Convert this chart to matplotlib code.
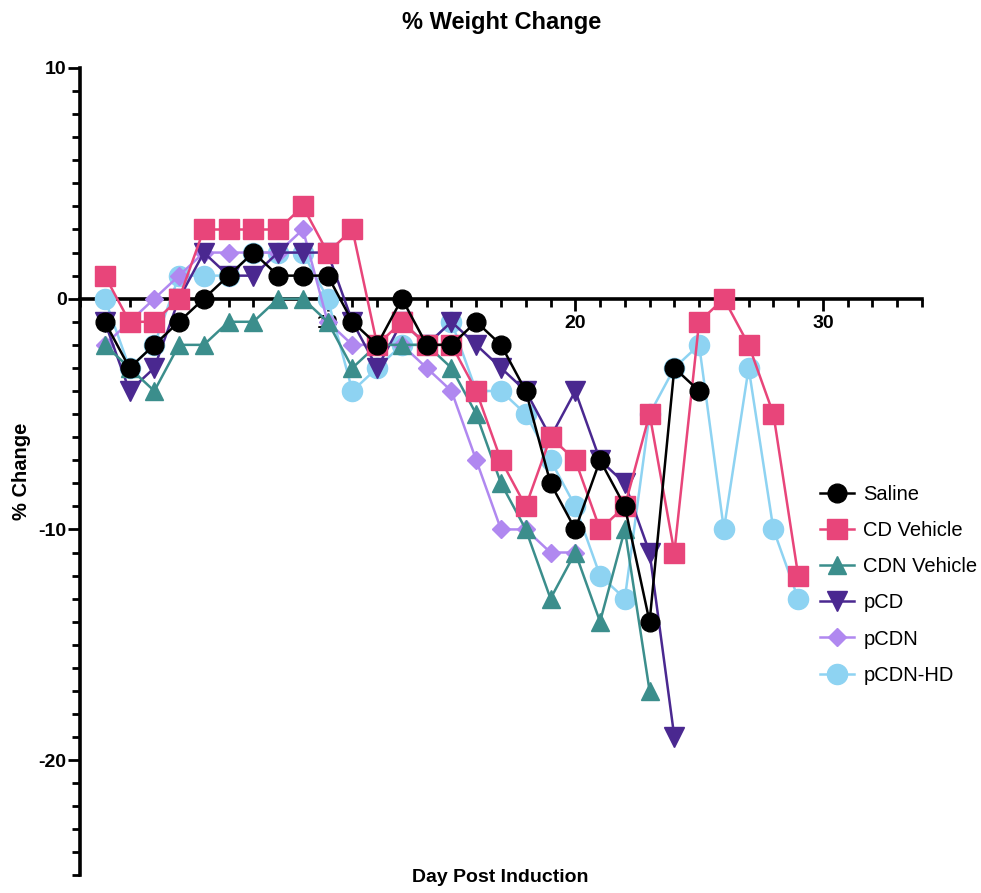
import numpy as np
import matplotlib.pyplot as plt
from matplotlib.ticker import MultipleLocator

plt.rcParams['font.family'] = ['Liberation Sans', 'DejaVu Sans']

# % weight change per group, one value per day starting at day 1
saline = [-1, -3, -2, -1, 0, 1, 2, 1, 1, 1, -1, -2, 0, -2, -2, -1, -2, -4, -8, -10,
          -7, -9, -14, -3, -4]
cd_vehicle = [1, -1, -1, 0, 3, 3, 3, 3, 4, 2, 3, -2, -1, -2, -2, -4, -7, -9, -6, -7,
              -10, -9, -5, -11, -1, 0, -2, -5, -12]
cdn_vehicle = [-2, -3, -4, -2, -2, -1, -1, 0, 0, -1, -3, -2, -2, -2, -3, -5, -8, -10,
               -13, -11, -14, -10, -17]
pcd = [-1, -4, -3, 0, 2, 1, 1, 2, 2, 2, -1, -3, -1, -2, -1, -2, -3, -4, -6, -4,
       -7, -8, -11, -19]
pcdn = [-2, -1, 0, 1, 2, 2, 2, 2, 3, -1, -2, -2, -2, -3, -4, -7, -10, -10, -11, -11]
pcdn_hd = [0, -3, -2, 1, 1, 1, 2, 2, 2, 0, -4, -3, -2, -2, -1, -4, -4, -5, -7, -9,
           -12, -13, -5, -3, -2, -10, -3, -10, -13]

groups = ['Saline', 'CD Vehicle', 'CDN Vehicle', 'pCD', 'pCDN', 'pCDN-HD']
series = [saline, cd_vehicle, cdn_vehicle, pcd, pcdn, pcdn_hd]
colors = ['#000000', '#E8457A', '#3B8E8C', '#4A2890', '#B088F0', '#8ED3F2']
markers = ['o', 's', '^', 'v', 'D', 'o']
msizes = [13.5, 14, 13.5, 14, 9.5, 14.5]

fig = plt.figure(figsize=(9.81, 8.93), dpi=100)
ax = fig.add_axes([80 / 981, 1 - 875.5 / 893, 842 / 981, 807.5 / 893])

for i, (name, vals) in enumerate(zip(groups, series)):
    days = np.arange(1, len(vals) + 1)
    ax.plot(days, vals, color=colors[i], marker=markers[i], markersize=msizes[i],
            markeredgecolor=colors[i], linewidth=1.8, label=name, zorder=10 - i,
            clip_on=False)

ax.set_xlim(0, 34)
ax.set_ylim(-25, 10)

ax.spines['top'].set_visible(False)
ax.spines['right'].set_visible(False)
ax.spines['bottom'].set_position(('data', 0))
for s in ['left', 'bottom']:
    ax.spines[s].set_linewidth(2.6)

ax.set_xticks([10, 20, 30], ['10', '20', '30'], fontweight='bold')
ax.set_yticks([-20, -10, 0, 10], ['-20', '-10', '0', '10'], fontweight='bold')
ax.xaxis.set_minor_locator(MultipleLocator(1))
ax.yaxis.set_minor_locator(MultipleLocator(1))
ax.tick_params(which='major', length=8.6, width=2, labelsize=14, direction='out')
ax.tick_params(which='minor', length=5.8, width=2, direction='out')
ax.tick_params(axis='y', which='major', pad=1)
ax.tick_params(axis='x', which='major', pad=3)

fig.text(502 / 981, 1 - 23 / 893, '% Weight Change', ha='center', va='center',
         fontsize=17, fontweight='bold')
fig.text(22 / 981, 1 - 471 / 893, '% Change', ha='center', va='center',
         rotation=90, fontsize=14.5, fontweight='bold')
fig.text(500 / 981, 1 - 878 / 893, 'Day Post Induction', ha='center', va='center',
         fontsize=14, fontweight='bold')

fig.legend(loc='upper left', bbox_to_anchor=(810 / 981, 1 - 475 / 893),
           frameon=False, fontsize=14.5, handlelength=1.7, handletextpad=0.45,
           labelspacing=0.85, borderpad=0)

fig.savefig('out.png', dpi=100)
